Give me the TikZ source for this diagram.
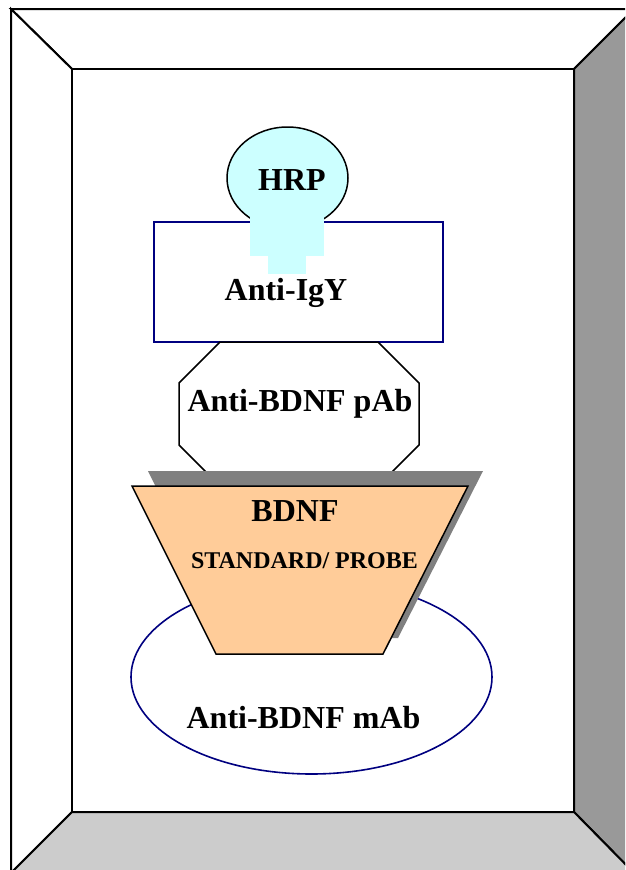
\documentclass[tikz,border=0pt]{standalone}
\usepackage{fontspec}
\setmainfont{Liberation Serif}
\begin{document}
\begin{tikzpicture}[x=1pt,y=-1pt,
  frameline/.style={draw=black,line width=2pt,line join=miter},
  navyline/.style={draw=navyc,line width=1.6pt},
  blackline/.style={draw=black,line width=1.5pt},
  bigtxt/.style={font=\fontsize{32}{36}\selectfont\bfseries,anchor=base,inner sep=0pt},
  smalltxt/.style={font=\fontsize{24}{28}\selectfont\bfseries,anchor=base,inner sep=0pt}]
\definecolor{navyc}{HTML}{000080}
\definecolor{rgray}{HTML}{999999}
\definecolor{bgray}{HTML}{CCCCCC}
\definecolor{shadowc}{HTML}{808080}
\definecolor{hrpc}{HTML}{CCFFFF}
\definecolor{bdnfc}{HTML}{FFCC99}
\useasboundingbox (0,0) rectangle (625,870);
\clip (0,0) rectangle (625,870);
% frame
\coordinate (o1) at (11,9);
\coordinate (o2) at (634,9);
\coordinate (o3) at (634,873);
\coordinate (o4) at (11,873);
\coordinate (i1) at (72,69);
\coordinate (i2) at (574,69);
\coordinate (i3) at (574,812);
\coordinate (i4) at (72,812);
\fill[white] (0,0) rectangle (625,870);
\path[frameline,fill=white] (o1) -- (o2) -- (i2) -- (i1) -- cycle;
\path[frameline,fill=white] (o1) -- (i1) -- (i4) -- (o4) -- cycle;
\path[frameline,fill=rgray] (o2) -- (i2) -- (i3) -- (o3) -- cycle;
\path[frameline,fill=bgray] (o4) -- (i4) -- (i3) -- (o3) -- cycle;
\path[frameline,fill=white] (i1) rectangle (i3);
% Anti-BDNF mAb ellipse
\path[navyline,fill=white] (311.5,677) ellipse [x radius=180.5,y radius=97];
% Anti-IgY rectangle
\path[navyline,fill=white] (154,222) rectangle (443,342);
% octagon
\path[blackline,fill=white] (220,342) -- (378,342) -- (419,383) -- (419,445) -- (378,486)
  -- (220,486) -- (179,445) -- (179,383) -- cycle;
% HRP ellipse and stem
\path[blackline,fill=hrpc] (287.5,178) ellipse [x radius=60.5,y radius=51];
\fill[hrpc] (250,216) rectangle (324,256);
\fill[hrpc] (268,255) rectangle (306,274);
% BDNF trapezoid with shadow
\fill[shadowc] (148,471) -- (483,471) -- (398,638) -- (231,638) -- cycle;
\path[blackline,fill=bdnfc] (132,486) -- (468,486) -- (383,654) -- (216,654) -- cycle;
% texts
\node[bigtxt] (hrp) at (292,190) {HRP};
\node[bigtxt] (igy) at (286,300) {Anti-IgY};
\node[bigtxt] (pab) at (300,411) {Anti-BDNF pAb};
\node[bigtxt] (bdnf) at (295,521) {BDNF};
\node[smalltxt] (std) at (304.5,568) {STANDARD/ PROBE};
\node[bigtxt] (mab) at (303.5,728) {Anti-BDNF mAb};
\end{tikzpicture}
\end{document}
